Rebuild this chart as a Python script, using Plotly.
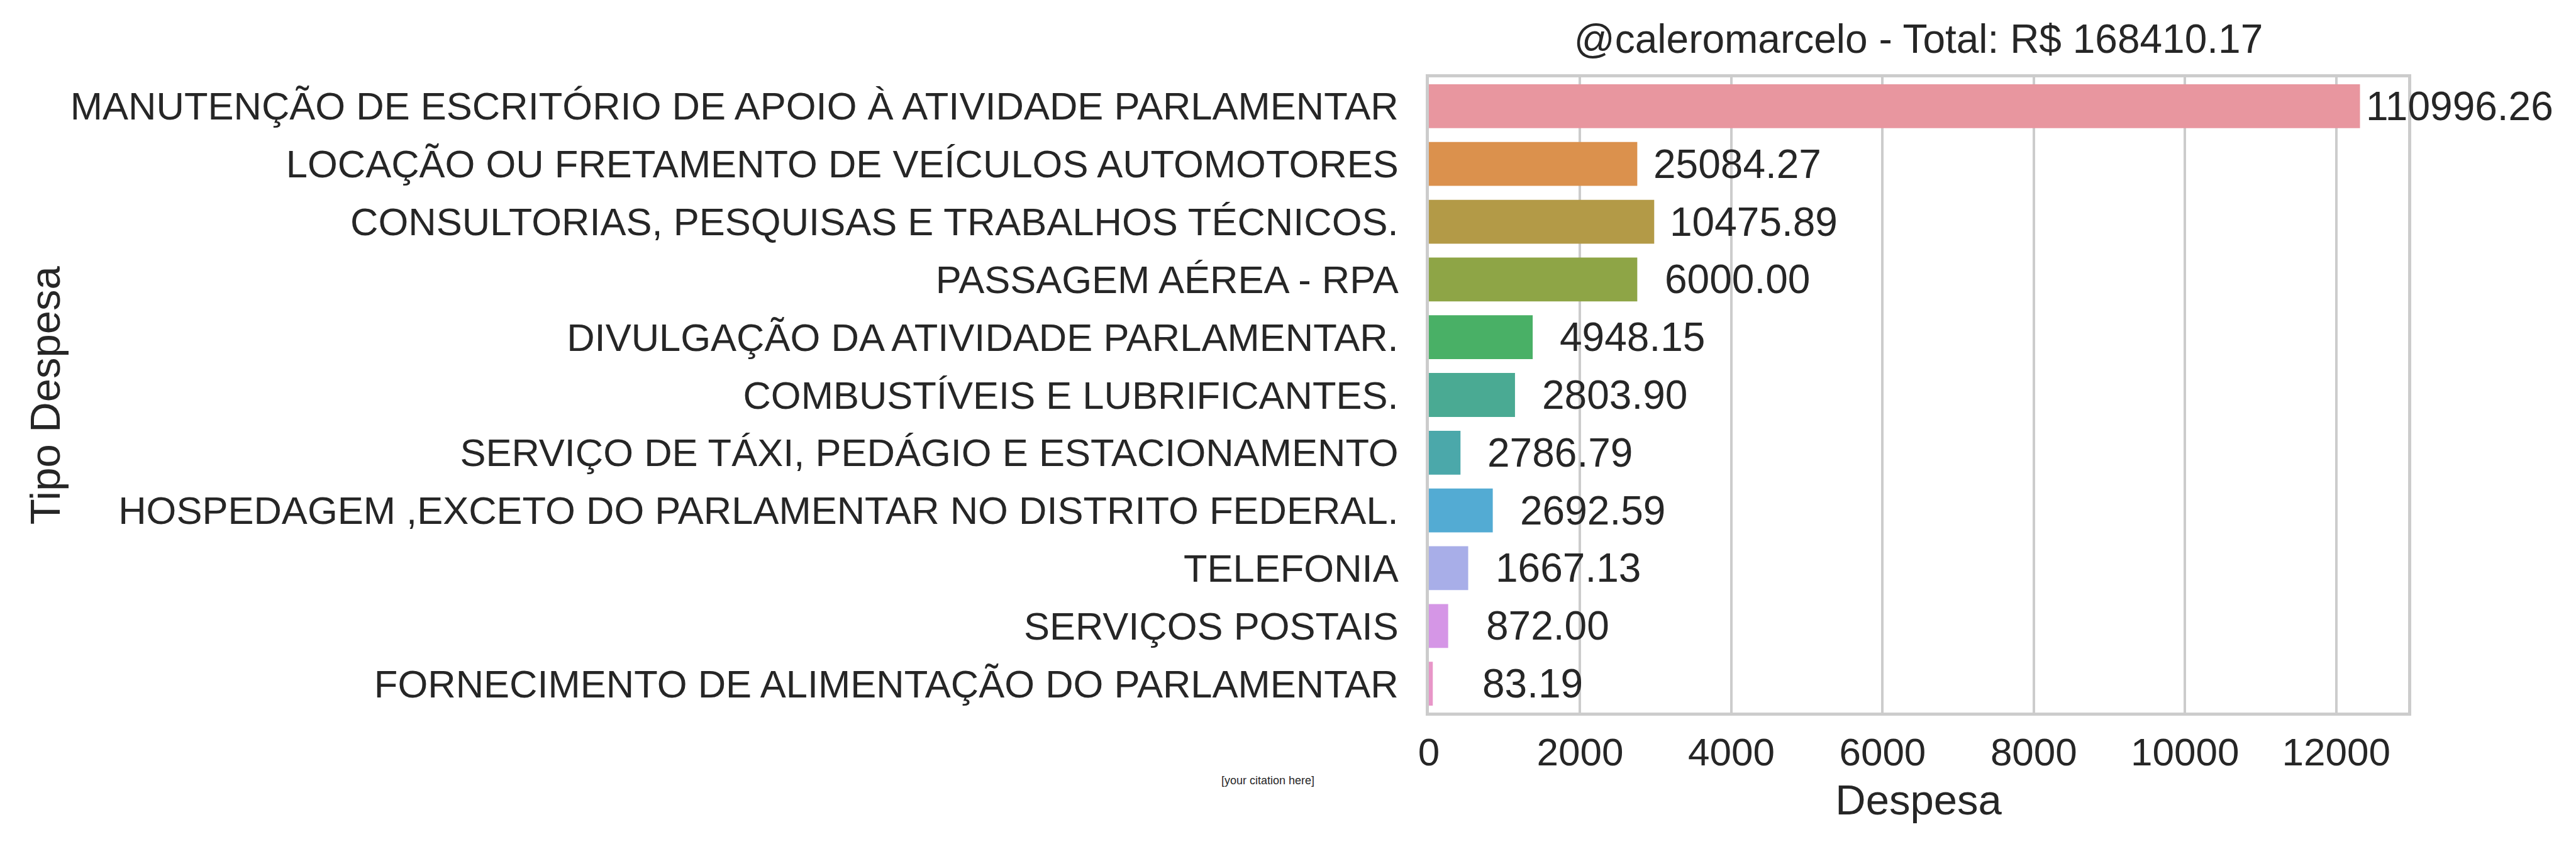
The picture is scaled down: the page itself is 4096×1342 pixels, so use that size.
import plotly.graph_objects as go

categories = [
    "MANUTENÇÃO DE ESCRITÓRIO DE APOIO À ATIVIDADE PARLAMENTAR",
    "LOCAÇÃO OU FRETAMENTO DE VEÍCULOS AUTOMOTORES",
    "CONSULTORIAS, PESQUISAS E TRABALHOS TÉCNICOS.",
    "PASSAGEM AÉREA - RPA",
    "DIVULGAÇÃO DA ATIVIDADE PARLAMENTAR.",
    "COMBUSTÍVEIS E LUBRIFICANTES.",
    "SERVIÇO DE TÁXI, PEDÁGIO E ESTACIONAMENTO",
    "HOSPEDAGEM ,EXCETO DO PARLAMENTAR NO DISTRITO FEDERAL.",
    "TELEFONIA",
    "SERVIÇOS POSTAIS",
    "FORNECIMENTO DE ALIMENTAÇÃO DO PARLAMENTAR",
]
bar_values = [12314, 2756, 2980, 2756, 1373, 1139, 418, 845, 520, 255, 52]
totals = [110996.26, 25084.27, 10475.89, 6000.00, 4948.15, 2803.90,
          2786.79, 2692.59, 1667.13, 872.00, 83.19]
grand_total = 168410.17
x_ticks = [0, 2000, 4000, 6000, 8000, 10000, 12000]

colors = ["#E8969F", "#DB914D", "#B39A47", "#8EA546", "#49B066", "#4AAA93",
          "#4BA8AA", "#53ABD3", "#A8AEE8", "#D596E6", "#E896C8"]

FONT = "Liberation Sans, Arial, sans-serif"
TXT = "#262626"
GRID = "#cccccc"
LABEL_OFFSET = 1320
X_MAX = 12950

fig = go.Figure()
fig.add_trace(go.Bar(
    x=bar_values, y=categories, orientation="h",
    marker=dict(color=colors, line=dict(width=0)),
    width=0.76, showlegend=False, hoverinfo="x+y",
))

# value labels (placed via paper fraction so the one past the axis end stays visible)
for cat, v, t in zip(categories, bar_values, totals):
    fig.add_annotation(x=(v + LABEL_OFFSET) / X_MAX, xref="paper",
                       y=cat, yref="y", text=f"{t:.2f}",
                       showarrow=False, xanchor="center", yanchor="middle",
                       font=dict(family=FONT, size=64, color=TXT))

fig.add_annotation(x=-0.1644, y=-0.107, xref="paper", yref="paper",
                   text="[your citation here]", showarrow=False,
                   xanchor="center", yanchor="middle",
                   font=dict(family=FONT, size=18, color=TXT))

fig.add_annotation(x=-1.4135, y=0.5, xref="paper", yref="paper",
                   text="Tipo Despesa", textangle=-90, showarrow=False,
                   xanchor="center", yanchor="middle",
                   font=dict(family=FONT, size=67, color=TXT))

fig.update_layout(
    width=4096, height=1342,
    margin=dict(l=2264, r=275, t=115, b=217, autoexpand=False),
    paper_bgcolor="white", plot_bgcolor="white",
    font=dict(family=FONT, color=TXT),
    title=dict(text=f"@caleromarcelo - Total: R$ {grand_total:.2f}",
               x=0.5, xref="paper", xanchor="center",
               y=1 - 54 / 1342, yref="container", yanchor="middle",
               font=dict(family=FONT, size=64, color=TXT)),
)
fig.update_xaxes(
    range=[0, X_MAX], tickvals=x_ticks, ticktext=[str(t) for t in x_ticks],
    showgrid=True, gridcolor=GRID, gridwidth=4, zeroline=False,
    showline=True, linecolor=GRID, linewidth=5, mirror=True,
    ticks="", ticklabelstandoff=5,
    tickfont=dict(family=FONT, size=62, color=TXT),
    title=dict(text="Despesa", standoff=20,
               font=dict(family=FONT, size=67, color=TXT)),
)
fig.update_yaxes(
    categoryorder="array", categoryarray=categories, autorange="reversed",
    showgrid=False, zeroline=False,
    showline=True, linecolor=GRID, linewidth=5, mirror=True,
    ticks="", ticklabelstandoff=31,
    tickfont=dict(family=FONT, size=61.5, color=TXT),
)

fig.write_html("out.html")
